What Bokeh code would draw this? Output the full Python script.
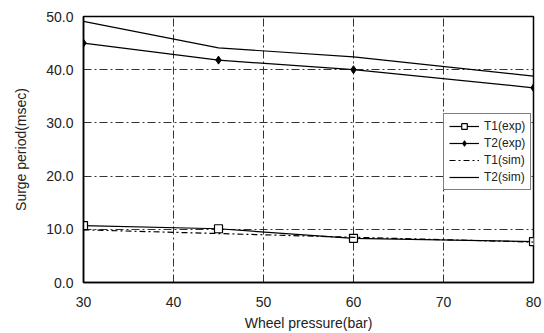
from bokeh.plotting import figure
from bokeh.models import Range1d, PrintfTickFormatter, FixedTicker, Legend, LegendItem
from bokeh.embed import file_html
from bokeh.resources import INLINE

# Wheel pressure (bar)
pressure = [30, 45, 60, 80]

# Surge period (msec)
t1_exp = [10.7, 10.1, 8.3, 7.7]
t2_exp = [45.0, 41.8, 40.0, 36.6]
t1_sim = [9.9, 9.2, 8.5, 7.6]
t2_sim = [49.1, 44.1, 42.4, 38.8]

x_ticks = [30, 40, 50, 60, 70, 80]
y_ticks = [0, 10, 20, 30, 40, 50]

FONT = "Liberation Sans"

p = figure(width=544, height=333, output_backend="svg", toolbar_location=None,
           x_range=Range1d(30, 80), y_range=Range1d(0, 50),
           min_border_left=83, min_border_right=11, min_border_top=16, min_border_bottom=50)

p.background_fill_color = "white"
p.border_fill_color = "white"
p.outline_line_color = "black"
p.outline_line_width = 1.5

p.xaxis.ticker = FixedTicker(ticks=x_ticks)
p.yaxis.ticker = FixedTicker(ticks=y_ticks)
p.yaxis.formatter = PrintfTickFormatter(format="%.1f")

for ax in (p.xaxis[0], p.yaxis[0]):
    ax.axis_line_color = "black"
    ax.axis_line_width = 1.5
    ax.major_tick_in = 0
    ax.major_tick_out = 0
    ax.minor_tick_line_color = None
    ax.major_label_text_font = FONT
    ax.major_label_text_font_size = "14px"
    ax.major_label_text_color = "#222222"
    ax.axis_label_text_font = FONT
    ax.axis_label_text_font_size = "14px"
    ax.axis_label_text_font_style = "normal"
    ax.axis_label_text_color = "#222222"

p.xaxis.axis_label = "Wheel pressure(bar)"
p.yaxis.axis_label = "Surge period(msec)"
p.xaxis.major_label_standoff = 14
p.xaxis.axis_label_standoff = 5
p.yaxis.major_label_standoff = 10
p.yaxis.axis_label_standoff = 14

p.grid.grid_line_color = "#333333"
p.grid.grid_line_dash = "8 3 2 3"
p.grid.grid_line_width = 1

r1 = p.line(pressure, t1_exp, line_color="black", line_width=1.2)
m1 = p.scatter(pressure, t1_exp, marker="square", size=8, fill_color="white",
               line_color="black", line_width=1.2)
r2 = p.line(pressure, t2_exp, line_color="black", line_width=1.2)
m2 = p.scatter(pressure, t2_exp, marker="diamond", size=8, fill_color="black",
               line_color="black")
r3 = p.line(pressure, t1_sim, line_color="black", line_width=1.2, line_dash="6 3 2 3")
r4 = p.line(pressure, t2_sim, line_color="black", line_width=1.2)

legend = Legend(items=[
    LegendItem(label="T1(exp)", renderers=[r1, m1]),
    LegendItem(label="T2(exp)", renderers=[r2, m2]),
    LegendItem(label="T1(sim)", renderers=[r3]),
    LegendItem(label="T2(sim)", renderers=[r4]),
])
legend.label_text_font = FONT
legend.label_text_font_size = "12px"
legend.label_text_color = "#222222"
legend.border_line_color = "black"
legend.border_line_width = 1
legend.background_fill_color = "white"
legend.background_fill_alpha = 1.0
legend.glyph_width = 30
legend.glyph_height = 14
legend.spacing = 3
legend.padding = 5
legend.margin = 0
legend.label_standoff = 5
legend.label_height = 14
legend.location = (360, 92)
p.add_layout(legend, "center")

open("out.html", "w").write(file_html(p, INLINE))
